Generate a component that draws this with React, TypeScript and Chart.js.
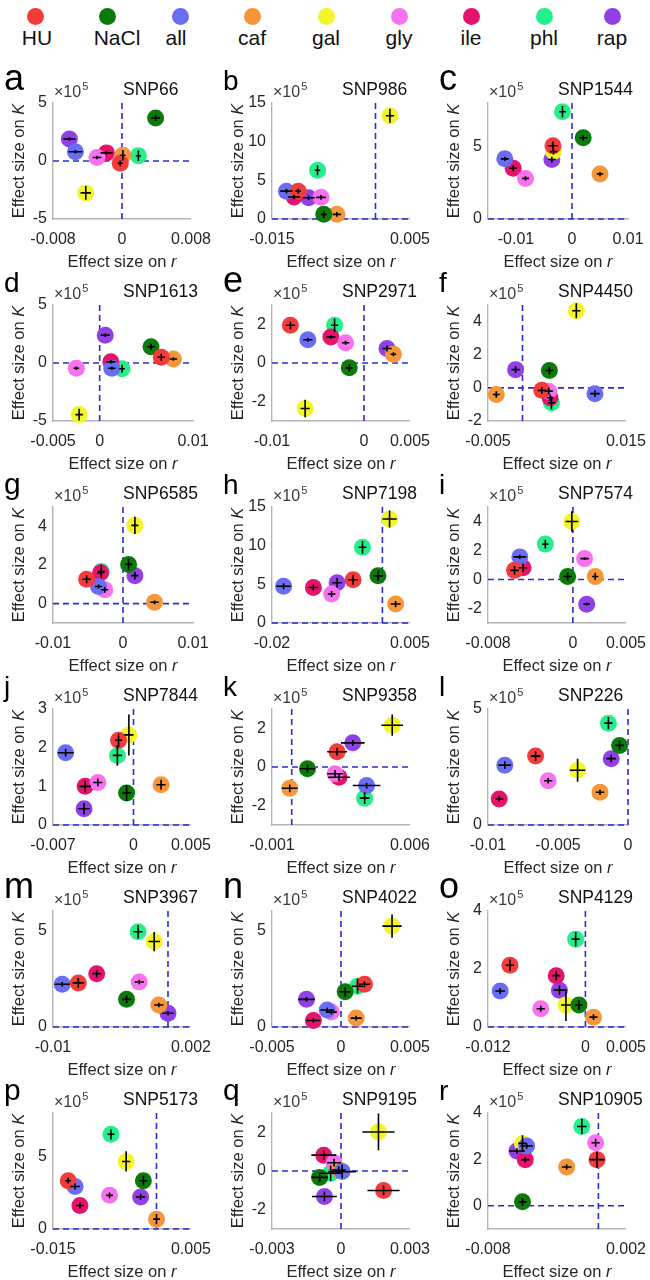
import React, { useEffect, useRef } from "react";
import { Chart, registerables } from "chart.js";

Chart.register(...registerables);

const FONT = "'Liberation Sans', Arial, Helvetica, sans-serif";
Chart.defaults.font.family = FONT;
Chart.defaults.color = "#262626";

// Conditions (legend order) and colours
const conditions = ["HU", "NaCl", "all", "caf", "gal", "gly", "ile", "phl", "rap"];
const conditionColors = ["#f23b3b", "#0b7a0b", "#6a6cf2", "#f5963b", "#f4f42a", "#f872f0", "#e6136c", "#24ef8b", "#9140e6"];

// Panels
const panelLetters = ["a", "b", "c", "d", "e", "f", "g", "h", "i", "j", "k", "l", "m", "n", "o", "p", "q", "r"];
const snpNames = ["SNP66", "SNP986", "SNP1544", "SNP1613", "SNP2971", "SNP4450", "SNP6585", "SNP7198", "SNP7574", "SNP7844", "SNP9358", "SNP226", "SNP3967", "SNP4022", "SNP4129", "SNP5173", "SNP9195", "SNP10905"];

// Axis ranges and ticks (r = x, K = y in units of 1e5)
const rMin = [-0.008, -0.015, -0.015, -0.005, -0.01, -0.005, -0.01, -0.02, -0.008, -0.007, -0.001, -0.01, -0.01, -0.005, -0.012, -0.015, -0.003, -0.008];
const rMax = [0.008, 0.005, 0.01, 0.01, 0.005, 0.015, 0.01, 0.005, 0.005, 0.005, 0.006, 0, 0.002, 0.005, 0.005, 0.005, 0.003, 0.002];
const rTicks = [
  [-0.008, 0, 0.008], [-0.015, 0.005], [-0.01, 0, 0.01],
  [-0.005, 0, 0.01], [-0.01, 0, 0.005], [-0.005, 0.015],
  [-0.01, 0, 0.01], [-0.02, 0.005], [-0.008, 0, 0.005],
  [-0.007, 0, 0.005], [-0.001, 0.006], [-0.01, -0.005, 0],
  [-0.01, 0.002], [-0.005, 0, 0.005], [-0.012, 0, 0.005],
  [-0.015, 0.005], [-0.003, 0, 0.003], [-0.008, 0.002],
];
const kMin = [-5, 0, 0, -5, -3, -2, -1, 0, -3, 0, -3, 0, 0, 0, 0, 0, -3, -1];
const kMax = [5, 15, 8, 5, 3, 5, 5, 15, 5, 3, 3, 5, 6, 6, 4, 8, 3, 4];
const kTicks = [
  [-5, 0, 5], [0, 5, 10, 15], [0, 5],
  [-5, 0, 5], [-2, 0, 2], [-2, 0, 2, 4],
  [0, 2, 4], [0, 5, 10, 15], [-2, 0, 2, 4],
  [0, 1, 2, 3], [-2, 0, 2], [0, 5],
  [0, 5], [0, 5], [0, 2, 4],
  [0, 5], [-2, 0, 2], [0, 2, 4],
];

// Effect size on r, per panel, in condition order HU, NaCl, all, caf, gal, gly, ile, phl, rap
const effectR = [
  [-0.0002, 0.0039, -0.0054, 0.0001, -0.0042, -0.0029, -0.0018, 0.0019, -0.0061], // a
  [-0.0112, -0.0075, -0.0129, -0.0056, 0.0021, -0.0079, -0.0118, -0.0084, -0.0097], // b
  [-0.0034, 0.0020, -0.0120, 0.0050, -0.0033, -0.0083, -0.0105, -0.0017, -0.0036], // c
  [0.0066, 0.0055, 0.0013, 0.0079, -0.0022, -0.0025, 0.0012, 0.0024, 0.0006], // d
  [-0.0080, -0.0016, -0.0061, 0.0032, -0.0064, -0.0020, -0.0036, -0.0032, 0.0025], // e
  [0.0028, 0.0039, 0.0105, -0.0038, 0.0078, 0.0038, 0.0040, 0.0042, -0.0010], // f
  [-0.0052, 0.0008, -0.0035, 0.0045, 0.0017, -0.0026, -0.0032, -0.0031, 0.0017], // g
  [-0.0053, -0.0008, -0.0179, 0.0024, 0.0013, -0.0092, -0.0125, -0.0036, -0.0082], // h
  [-0.0055, -0.0005, -0.0050, 0.0021, -0.0001, 0.0011, -0.0047, -0.0026, 0.0013], // i
  [-0.0013, -0.0006, -0.0059, 0.0024, -0.0004, -0.0031, -0.0042, -0.0014, -0.0043], // j
  [0.0023, 0.0008, 0.0038, -0.0001, 0.0051, 0.0022, 0.0024, 0.0037, 0.0031], // k
  [-0.0066, -0.0006, -0.0088, -0.0020, -0.0036, -0.0057, -0.0092, -0.0014, -0.0012], // l
  [-0.0078, -0.0036, -0.0092, -0.0008, -0.0012, -0.0025, -0.0062, -0.0026, 0.0], // m
  [0.0017, 0.0003, -0.0010, 0.0011, 0.0037, -0.0007, -0.0020, 0.0012, -0.0025], // n
  [-0.0093, -0.0008, -0.0105, 0.0010, -0.0024, -0.0055, -0.0036, -0.0012, -0.0032], // o
  [-0.0128, -0.0019, -0.0118, 0.0, -0.0044, -0.0068, -0.0111, -0.0066, -0.0023], // p
  [0.00185, -0.00093, 0.00005, -0.0001, 0.00163, -0.0003, -0.00075, -0.00045, -0.00072], // q
  [-0.0001, -0.0055, -0.0052, -0.0023, -0.0055, -0.0002, -0.0053, -0.0012, -0.0059], // r
];

// Effect size on K (x1e5)
const effectK = [
  [-0.2, 3.7, 0.8, 0.5, -2.75, 0.3, 0.7, 0.45, 1.9],
  [3.6, 0.6, 3.6, 0.6, 13.35, 2.8, 2.85, 6.3, 2.75],
  [5.05, 5.6, 4.15, 3.1, 4.65, 2.8, 3.5, 7.4, 4.1],
  [0.5, 1.4, -0.45, 0.35, -4.45, -0.45, 0.1, -0.5, 2.4],
  [1.95, -0.25, 1.2, 0.45, -2.35, 1.05, 1.35, 1.95, 0.75],
  [-0.15, 1.05, -0.35, -0.4, 4.65, -0.2, -0.6, -0.9, 1.1],
  [1.26, 2.03, 0.89, 0.07, 4.05, 0.72, 1.6, 1.66, 1.45],
  [5.6, 6.1, 4.75, 2.45, 13.45, 3.75, 4.6, 9.8, 5.2],
  [0.63, 0.21, 1.56, 0.21, 4.0, 1.44, 0.81, 2.44, -1.7],
  [2.19, 0.83, 1.87, 1.04, 2.33, 1.1, 1.0, 1.8, 0.42],
  [0.79, -0.09, -0.96, -1.1, 2.16, -0.35, -0.53, -1.61, 1.25],
  [2.97, 3.43, 2.58, 1.41, 2.36, 1.91, 1.12, 4.39, 2.86],
  [2.28, 1.43, 2.21, 1.14, 4.42, 2.33, 2.76, 4.93, 0.71],
  [2.21, 1.82, 0.88, 0.46, 5.22, 0.77, 0.34, 2.11, 1.43],
  [2.13, 0.76, 1.24, 0.34, 0.76, 0.63, 1.77, 3.03, 1.27],
  [3.33, 3.33, 2.93, 0.68, 4.66, 2.32, 1.62, 6.53, 2.21],
  [-1.01, -0.33, -0.03, 0.05, 2.02, 0.43, 0.82, -0.12, -1.32],
  [1.99, 0.17, 2.58, 1.67, 2.69, 2.72, 1.99, 3.42, 2.36],
];

// Error bar half-widths on r
const errR = [
  [0.0003, 0.0005, 0.0008, 0.0003, 0.0006, 0.0005, 0.0007, 0.0003, 0.0007],
  [0.0004, 0.0004, 0.0009, 0.0006, 0.0006, 0.0007, 0.0009, 0.0004, 0.0009],
  [0.0009, 0.0007, 0.0007, 0.0006, 0.0007, 0.0006, 0.0007, 0.0006, 0.0007],
  [0.0004, 0.0004, 0.0004, 0.0004, 0.0004, 0.0003, 0.0005, 0.0003, 0.0005],
  [0.0005, 0.0004, 0.0005, 0.0003, 0.0005, 0.0004, 0.0005, 0.0004, 0.0005],
  [0.0006, 0.0006, 0.0007, 0.0005, 0.0006, 0.0006, 0.0005, 0.0005, 0.0006],
  [0.0006, 0.0005, 0.0005, 0.0006, 0.0005, 0.0005, 0.0005, 0.0005, 0.0005],
  [0.0009, 0.0009, 0.0013, 0.0009, 0.0013, 0.0007, 0.0009, 0.0007, 0.0009],
  [0.0004, 0.0004, 0.0006, 0.0003, 0.0006, 0.0004, 0.0004, 0.0003, 0.0003],
  [0.0003, 0.0004, 0.0007, 0.0004, 0.0004, 0.0004, 0.0005, 0.0004, 0.0005],
  [0.0005, 0.00038, 0.0007, 0.0004, 0.00055, 0.0004, 0.00055, 0.00025, 0.0006],
  [0.00035, 0.0003, 0.00045, 0.0003, 0.00055, 0.0003, 0.0003, 0.0003, 0.00035],
  [0.0005, 0.0004, 0.00065, 0.0004, 0.0005, 0.0004, 0.0004, 0.0004, 0.0005],
  [0.0004, 0.0004, 0.0005, 0.0004, 0.0007, 0.0004, 0.0005, 0.0004, 0.0006],
  [0.0005, 0.0005, 0.0006, 0.0005, 0.0006, 0.0005, 0.0005, 0.0005, 0.0007],
  [0.0004, 0.0006, 0.0007, 0.0005, 0.0006, 0.0005, 0.0006, 0.0005, 0.0007],
  [0.0007, 0.00036, 0.0006, 0.0003, 0.0007, 0.0003, 0.00054, 0.00045, 0.00054],
  [0.00055, 0.0003, 0.00045, 0.00035, 0.0003, 0.0003, 0.0003, 0.00035, 0.00057],
];

// Error bar half-heights on K (x1e5)
const errK = [
  [0.25, 0.25, 0.15, 0.45, 0.6, 0.15, 0.15, 0.45, 0.15],
  [0.3, 0.5, 0.3, 0.3, 0.9, 0.3, 0.3, 0.65, 0.3],
  [0.3, 0.2, 0.15, 0.15, 0.2, 0.15, 0.2, 0.4, 0.2],
  [0.3, 0.25, 0.15, 0.15, 0.5, 0.15, 0.15, 0.35, 0.15],
  [0.2, 0.2, 0.1, 0.1, 0.45, 0.1, 0.1, 0.35, 0.15],
  [0.2, 0.25, 0.2, 0.2, 0.45, 0.2, 0.2, 0.4, 0.2],
  [0.2, 0.3, 0.1, 0.1, 0.45, 0.15, 0.1, 0.35, 0.2],
  [0.65, 0.65, 0.4, 0.4, 1.1, 0.4, 0.4, 0.8, 0.65],
  [0.3, 0.3, 0.15, 0.25, 0.7, 0.1, 0.3, 0.3, 0.1],
  [0.17, 0.2, 0.1, 0.13, 0.53, 0.1, 0.15, 0.27, 0.15],
  [0.2, 0.2, 0.15, 0.2, 0.55, 0.2, 0.2, 0.3, 0.15],
  [0.2, 0.2, 0.17, 0.12, 0.5, 0.12, 0.12, 0.26, 0.17],
  [0.25, 0.2, 0.12, 0.12, 0.5, 0.12, 0.2, 0.35, 0.12],
  [0.15, 0.25, 0.12, 0.12, 0.6, 0.12, 0.12, 0.38, 0.12],
  [0.2, 0.17, 0.1, 0.1, 0.55, 0.1, 0.17, 0.25, 0.17],
  [0.2, 0.35, 0.2, 0.35, 0.7, 0.2, 0.2, 0.35, 0.2],
  [0.25, 0.25, 0.35, 0.2, 0.95, 0.2, 0.25, 0.4, 0.25],
  [0.35, 0.17, 0.12, 0.12, 0.35, 0.17, 0.12, 0.33, 0.12],
];

// Layout constants (pixels)
const COL_LEFT = [53, 272, 488];
const CANVAS_W = 222;
const CELL_H = 202;
const TOP0 = 60;
const CANVAS_H = 222;
const PLOT_LEFT = 53;
const PLOT_W = 140;
const PLOT_TOP = 43;
const PLOT_H = 116;
const X_AXIS_H = 30;

const fmt = (v: number) => String(Number(Number(v).toPrecision(6)));

function letterFontSize(ch: string) {
  if ("acemnosuvwxz".includes(ch)) return 36;
  if ("gpqy".includes(ch)) return 30;
  return 28;
}

function drawMixed(ctx: CanvasRenderingContext2D, normal: string, italic: string, cx: number, cy: number) {
  const size = 16.5;
  ctx.font = `${size}px ${FONT}`;
  const w1 = ctx.measureText(normal).width;
  ctx.font = `italic ${size}px ${FONT}`;
  const w2 = ctx.measureText(italic).width;
  const start = cx - (w1 + w2) / 2;
  ctx.textAlign = "left";
  ctx.textBaseline = "middle";
  ctx.font = `${size}px ${FONT}`;
  ctx.fillText(normal, start, cy);
  ctx.font = `italic ${size}px ${FONT}`;
  ctx.fillText(italic, start + w1, cy);
}

function makePlugin(p: number) {
  return {
    id: "decor" + p,
    beforeDatasetsDraw(chart: any) {
      const { ctx, chartArea: a, scales } = chart;
      const x0 = scales.x.getPixelForValue(0);
      const y0 = scales.y.getPixelForValue(0);
      ctx.save();
      ctx.strokeStyle = "#2a2ed0";
      ctx.lineWidth = 1.6;
      ctx.setLineDash([6, 4]);
      ctx.beginPath();
      ctx.moveTo(a.left, y0);
      ctx.lineTo(a.right, y0);
      ctx.stroke();
      ctx.beginPath();
      ctx.moveTo(x0, a.top);
      ctx.lineTo(x0, a.bottom);
      ctx.stroke();
      ctx.restore();
    },
    afterDatasetsDraw(chart: any) {
      const { ctx, scales } = chart;
      ctx.save();
      ctx.strokeStyle = "#000";
      ctx.lineWidth = 1.6;
      for (let i = 0; i < conditions.length; i++) {
        const r = effectR[p][i];
        const k = effectK[p][i];
        const px = scales.x.getPixelForValue(r);
        const py = scales.y.getPixelForValue(k);
        const xl = scales.x.getPixelForValue(r - errR[p][i]);
        const xr = scales.x.getPixelForValue(r + errR[p][i]);
        const yt = scales.y.getPixelForValue(k + errK[p][i]);
        const yb = scales.y.getPixelForValue(k - errK[p][i]);
        ctx.beginPath();
        ctx.moveTo(xl, py);
        ctx.lineTo(xr, py);
        ctx.moveTo(px, yt);
        ctx.lineTo(px, yb);
        ctx.stroke();
      }
      ctx.restore();
    },
    afterDraw(chart: any) {
      const { ctx, chartArea: a } = chart;
      ctx.save();
      // panel letter
      const letter = panelLetters[p];
      ctx.fillStyle = "#000";
      ctx.textAlign = "left";
      ctx.textBaseline = "alphabetic";
      ctx.font = `${letterFontSize(letter)}px ${FONT}`;
      ctx.fillText(letter, a.left - 49, a.top - 13);
      // x10^5
      ctx.fillStyle = "#3a3a3a";
      ctx.font = `16px ${FONT}`;
      ctx.fillText("\u00d710", a.left + 1, a.top - 6);
      const w = ctx.measureText("\u00d710").width;
      ctx.font = `11px ${FONT}`;
      ctx.fillText("5", a.left + w + 2, a.top - 13);
      // SNP title
      ctx.fillStyle = "#111";
      ctx.font = `17.5px ${FONT}`;
      ctx.fillText(snpNames[p], a.left + 70, a.top - 8);
      // axis titles
      ctx.fillStyle = "#262626";
      drawMixed(ctx, "Effect size on ", "r", (a.left + a.right) / 2, a.bottom + 43);
      ctx.translate(a.left - 34, (a.top + a.bottom) / 2);
      ctx.rotate(-Math.PI / 2);
      drawMixed(ctx, "Effect size on ", "K", 0, 0);
      ctx.restore();
    },
  };
}

function makeConfig(p: number): any {
  return {
    type: "scatter",
    data: {
      datasets: conditions.map((c, i) => ({
        label: c,
        data: [{ x: effectR[p][i], y: effectK[p][i] }],
        backgroundColor: conditionColors[i],
        borderWidth: 0,
        pointRadius: 8.5,
        pointHoverRadius: 8.5,
        pointBorderWidth: 0,
        clip: false,
      })),
    },
    options: {
      animation: false,
      responsive: false,
      devicePixelRatio: 1,
      events: [],
      layout: {
        padding: {
          left: 0,
          top: PLOT_TOP,
          right: CANVAS_W - PLOT_LEFT - PLOT_W,
          bottom: CANVAS_H - PLOT_TOP - PLOT_H - X_AXIS_H,
        },
      },
      plugins: { legend: { display: false }, tooltip: { enabled: false }, title: { display: false } },
      scales: {
        x: {
          type: "linear",
          min: rMin[p],
          max: rMax[p],
          afterBuildTicks: (s: any) => {
            s.ticks = rTicks[p].map((v) => ({ value: v }));
          },
          afterFit: (s: any) => {
            s.height = X_AXIS_H;
          },
          ticks: {
            autoSkip: false,
            maxRotation: 0,
            padding: 11,
            font: { size: 16 },
            color: "#262626",
            callback: (v: number) => fmt(v),
          },
          grid: { display: false, drawTicks: false },
          border: { display: true, color: "#b4b4b4", width: 1.4 },
        },
        y: {
          type: "linear",
          min: kMin[p],
          max: kMax[p],
          afterBuildTicks: (s: any) => {
            s.ticks = kTicks[p].map((v) => ({ value: v }));
          },
          afterFit: (s: any) => {
            s.width = PLOT_LEFT;
          },
          ticks: {
            autoSkip: false,
            padding: 6,
            font: { size: 16 },
            color: "#262626",
            callback: (v: number) => fmt(v),
          },
          grid: { display: false, drawTicks: false },
          border: { display: true, color: "#b4b4b4", width: 1.4 },
        },
      },
    },
    plugins: [makePlugin(p)],
  };
}

function Panel({ p }: { p: number }) {
  const ref = useRef<HTMLCanvasElement>(null);
  useEffect(() => {
    if (!ref.current) return;
    const chart = new Chart(ref.current, makeConfig(p));
    return () => chart.destroy();
  }, [p]);
  const col = p % 3;
  const row = Math.floor(p / 3);
  return (
    <canvas
      ref={ref}
      width={CANVAS_W}
      height={CANVAS_H}
      style={{
        position: "absolute",
        left: COL_LEFT[col] - PLOT_LEFT,
        top: TOP0 + row * CELL_H,
        width: CANVAS_W,
        height: CANVAS_H,
      }}
    />
  );
}

const legendCircleX = [35, 107, 180, 252, 326, 399, 471, 544, 612];
const legendLabelX = [37, 117, 176, 252, 326, 399, 471, 544, 612];

export default function App() {
  return (
    <div
      style={{
        position: "absolute",
        left: 0,
        top: 0,
        width: 650,
        height: 1280,
        overflow: "hidden",
        background: "#fff",
        fontFamily: FONT,
      }}
    >
      {conditions.map((c, i) => (
        <React.Fragment key={c}>
          <div
            style={{
              position: "absolute",
              left: legendCircleX[i] - 8.5,
              top: 8,
              width: 17,
              height: 17,
              borderRadius: "50%",
              background: conditionColors[i],
            }}
          />
          <div
            style={{
              position: "absolute",
              left: legendLabelX[i] - 40,
              top: 26,
              width: 80,
              textAlign: "center",
              fontSize: 21,
              lineHeight: "24px",
              color: "#111",
            }}
          >
            {c}
          </div>
        </React.Fragment>
      ))}
      {panelLetters.map((_, p) => (
        <Panel key={p} p={p} />
      ))}
    </div>
  );
}
